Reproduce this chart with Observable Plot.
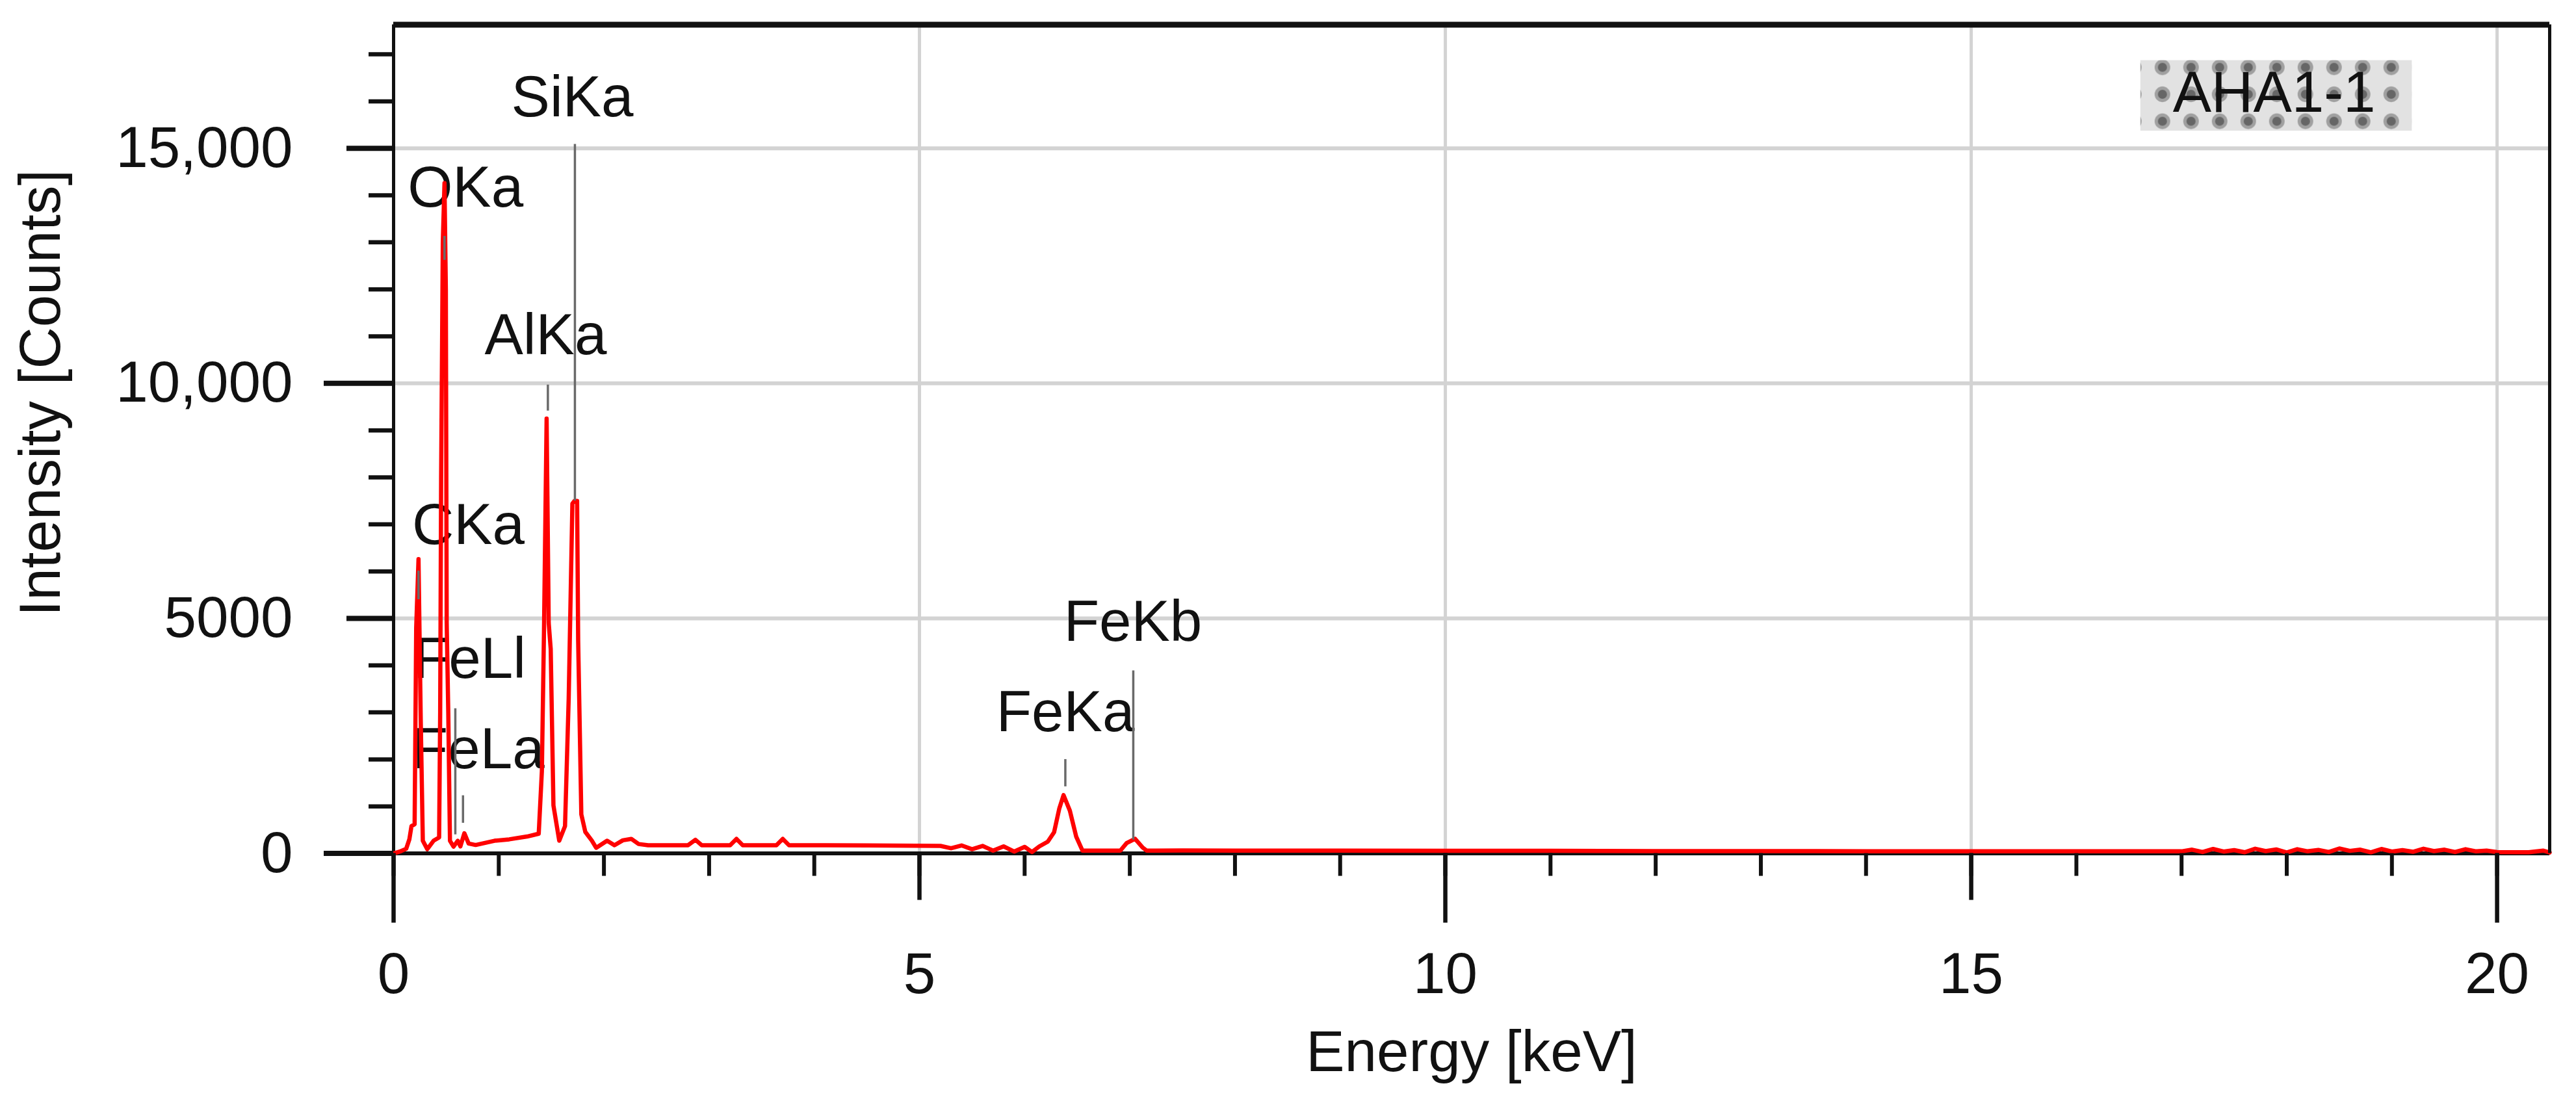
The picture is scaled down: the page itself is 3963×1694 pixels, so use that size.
<!DOCTYPE html>
<html>
<head>
<meta charset="utf-8">
<script src="https://cdn.jsdelivr.net/npm/d3@7"></script>
<script src="https://cdn.jsdelivr.net/npm/@observablehq/plot@0.6"></script>
<style>
  html, body { margin: 0; padding: 0; background: #fff; }
  #chart svg { display: block; }
</style>
</head>
<body>
<div id="chart"></div>
<script>
// ---- spectrum ----
const energyKeV = [0, 0.06, 0.12, 0.15, 0.17, 0.2, 0.215, 0.237, 0.258, 0.278,
  0.32, 0.38, 0.433, 0.443, 0.452, 0.468, 0.484, 0.497, 0.505, 0.52,
  0.536, 0.57, 0.61, 0.635, 0.673, 0.714, 0.78, 0.96, 1.1, 1.27,
  1.38, 1.41, 1.43, 1.455, 1.475, 1.494, 1.52, 1.575, 1.63, 1.665,
  1.7, 1.72, 1.745, 1.755, 1.785, 1.823, 1.885, 1.926, 2.03, 2.1,
  2.18, 2.26, 2.33, 2.42, 2.8, 2.87, 2.93, 3.2, 3.26, 3.32,
  3.64, 3.7, 3.76, 4.5, 5.2, 5.3, 5.4, 5.5, 5.6, 5.7,
  5.8, 5.9, 6.0, 6.07, 6.14, 6.22, 6.28, 6.33, 6.37, 6.43,
  6.49, 6.55, 6.91, 6.97, 7.05, 7.12, 7.16, 7.5, 8, 9,
  10, 11, 12, 13, 14, 15, 16, 16.9,
  17.0, 17.1, 17.2, 17.3, 17.4, 17.5, 17.6, 17.7, 17.8, 17.9,
  18.0, 18.1, 18.2, 18.3, 18.4, 18.5, 18.6, 18.7, 18.8, 18.9,
  19.0, 19.1, 19.2, 19.3, 19.4, 19.5, 19.6, 19.7, 19.8, 19.9,
  20.0, 20.3, 20.44, 20.5];
const intensity = [0, 40, 100, 300, 580, 620, 4800, 6260, 2870, 270,
  90, 270, 340, 3000, 8000, 13000, 14260, 12000, 4900, 3000,
  270, 145, 270, 150, 430, 210, 180, 270, 300, 360,
  420, 1750, 4720, 9250, 4900, 4350, 1020, 270, 580, 3300,
  7440, 7500, 7500, 4530, 830, 458, 272, 120, 272, 175,
  280, 310, 200, 175, 175, 290, 175, 175, 310, 175,
  175, 310, 175, 170, 160, 110, 170, 90, 160, 60,
  150, 40, 140, 30, 150, 250, 450, 960, 1240, 910,
  360, 60, 60, 220, 310, 130, 60, 65, 60, 60,
  55, 55, 50, 50, 48, 48, 45, 45,
  45, 80, 30, 95, 40, 70, 25, 100, 50, 85,
  20, 90, 45, 75, 30, 105, 55, 80, 25, 95,
  40, 70, 35, 100, 50, 80, 30, 90, 45, 60,
  30, 25, 60, 20];

// ---- peak annotations ----
const peakNames    = ["CKa", "OKa", "FeLl", "FeLa", "AlKa", "SiKa", "FeKa", "FeKb"];
const labelEnergy  = [0.711, 0.684, 0.723, 0.808, 1.446, 1.70, 6.388, 7.03];
const labelCounts  = [6982, 14150, 4130, 2205, 11018, 16080, 2988, 4923];
const markerEnergy = [0.237, 0.484, 0.587, 0.66, 1.467, 1.724, 6.387, 7.033];
const markerTop    = [6010, 13130, 3080, 1230, 9967, 15085, 2000, 3885];
const markerBottom = [5400, 12620, 400, 645, 9414, 7500, 1420, 290];

const sampleId = "AHA1-1";
const sampleEnergy = [17.88];
const sampleCounts = [16170];

// ---- axes ----
const xDomain = [0, 20.5];
const yDomain = [0, 17630];
const xMinorTicks = [0, 1, 2, 3, 4, 5, 6, 7, 8, 9, 10, 11, 12, 13, 14, 15, 16, 17, 18, 19, 20];
const xMidTicks = [5, 15];
const xMajorTicks = [0, 10, 20];
const xTickLabels = [0, 5, 10, 15, 20];
const yMinorTicks = [0, 1000, 2000, 3000, 4000, 5000, 6000, 7000, 8000, 9000, 10000,
  11000, 12000, 13000, 14000, 15000, 16000, 17000];
const yMidTicks = [5000, 15000];
const yMajorTicks = [0, 10000];
const yTickLabels = [0, 5000, 10000, 15000];
const xTitle = "Energy [keV]";
const yTitle = "Intensity [Counts]";

const spectrum = energyKeV.map((e, i) => ({e, c: intensity[i]}));
const labels = peakNames.map((name, i) => ({name, e: labelEnergy[i], c: labelCounts[i]}));
const markers = peakNames.map((name, i) => ({name, e: markerEnergy[i], c1: markerTop[i], c2: markerBottom[i]}));
const sample = [{name: sampleId, e: sampleEnergy[0], c: sampleCounts[0]}];

const xFmt = d => String(d);
const yFmt = d => d >= 10000 ? d3.format(",")(d) : String(d);
const blank = () => "";
const INK = "#111";
const GRID = "#d3d3d3";

const plot = Plot.plot({
  width: 3963,
  height: 1694,
  marginLeft: 605,
  marginRight: 41,
  marginTop: 37.5,
  marginBottom: 381.4,
  x: {domain: xDomain},
  y: {domain: yDomain},
  style: {fontFamily: "'Liberation Sans', Arial, sans-serif", fontSize: "89px", color: INK, background: "#fff"},
  marks: [
    Plot.gridX(xTickLabels.filter(d => d > 0), {stroke: GRID, strokeOpacity: 1, strokeWidth: 5}),
    Plot.gridY(yTickLabels, {stroke: GRID, strokeOpacity: 1, strokeWidth: 6}),
    Plot.text(labels, {x: "e", y: "c", text: "name", fill: INK, lineAnchor: "middle"}),
    Plot.text(sample, {x: "e", y: "c", text: "name", fill: INK, lineAnchor: "middle"}),
    Plot.ruleY([0], {stroke: INK, strokeWidth: 6}),
    Plot.ruleX([xDomain[0]], {stroke: INK, strokeWidth: 5}),
    Plot.line(spectrum, {x: "e", y: "c", stroke: "#ff0000", strokeWidth: 6.5, strokeLinejoin: "round"}),
    Plot.ruleX(markers, {x: "e", y1: "c1", y2: "c2", stroke: "#6a6a6a", strokeWidth: 3.5}),
    Plot.ruleX([xDomain[1]], {stroke: INK, strokeWidth: 5}),
    Plot.ruleY([yDomain[1]], {stroke: INK, strokeWidth: 9}),
    Plot.axisX(xMinorTicks, {anchor: "bottom", tickSize: 35, strokeWidth: 6, tickFormat: blank, label: null}),
    Plot.axisX(xMidTicks, {anchor: "bottom", tickSize: 72, strokeWidth: 6.5, tickFormat: blank, label: null}),
    Plot.axisX(xMajorTicks, {anchor: "bottom", tickSize: 107, strokeWidth: 6.5, tickFormat: blank, label: null}),
    Plot.axisX(xTickLabels, {anchor: "bottom", tickSize: 0, tickPadding: 152, tickFormat: xFmt, label: null}),
    Plot.axisY(yMinorTicks, {anchor: "left", tickSize: 38, strokeWidth: 6.5, tickFormat: blank, label: null}),
    Plot.axisY(yMidTicks, {anchor: "left", tickSize: 72, strokeWidth: 8, tickFormat: blank, label: null}),
    Plot.axisY(yMajorTicks, {anchor: "left", tickSize: 107, strokeWidth: 8, tickFormat: blank, label: null}),
    Plot.axisY(yTickLabels, {anchor: "left", tickSize: 0, tickPadding: 155, tickFormat: yFmt, label: null}),
    Plot.text([xTitle], {text: d => d, frameAnchor: "bottom", textAnchor: "middle", dy: 306, lineAnchor: "middle", fill: INK}),
    Plot.text([yTitle], {text: d => d, frameAnchor: "left", textAnchor: "middle", rotate: -90, dx: -542, dy: -71, lineAnchor: "middle", fill: INK})
  ]
});

document.getElementById("chart").append(plot);

// ---- dotted background box behind the sample id ----
(function () {
  const svg = plot;
  const ns = "http://www.w3.org/2000/svg";
  const target = [...svg.querySelectorAll("text")].find(el => el.textContent === sampleId);
  if (!target) return;
  const r = target.getBoundingClientRect();
  const s = svg.getBoundingClientRect();
  const bx = r.left - s.left - 50;
  const bw = r.width + 106;
  const by = r.top - s.top + 1.5;
  const bh = r.height + 8.5;
  const tw = 44, th = 41.5;
  const defs = document.createElementNS(ns, "defs");
  const pat = document.createElementNS(ns, "pattern");
  pat.setAttribute("id", "dotpat");
  pat.setAttribute("patternUnits", "userSpaceOnUse");
  pat.setAttribute("width", tw);
  pat.setAttribute("height", th);
  pat.setAttribute("x", bx + 34 - tw / 2);
  pat.setAttribute("y", by + 11 - th / 2);
  const bg = document.createElementNS(ns, "rect");
  bg.setAttribute("width", tw); bg.setAttribute("height", th); bg.setAttribute("fill", "#e2e2e2");
  const c1 = document.createElementNS(ns, "circle");
  c1.setAttribute("cx", tw / 2); c1.setAttribute("cy", th / 2); c1.setAttribute("r", 12); c1.setAttribute("fill", "#a0a0a0");
  const c2 = document.createElementNS(ns, "circle");
  c2.setAttribute("cx", tw / 2); c2.setAttribute("cy", th / 2); c2.setAttribute("r", 7); c2.setAttribute("fill", "#666");
  pat.append(bg, c1, c2);
  defs.append(pat);
  svg.insertBefore(defs, svg.firstChild);
  const box = document.createElementNS(ns, "rect");
  box.setAttribute("x", bx); box.setAttribute("y", by);
  box.setAttribute("width", bw); box.setAttribute("height", bh);
  box.setAttribute("fill", "url(#dotpat)");
  let g = target;
  while (g.parentNode && g.parentNode !== svg) g = g.parentNode;
  svg.insertBefore(box, g);
})();
</script>
</body>
</html>
